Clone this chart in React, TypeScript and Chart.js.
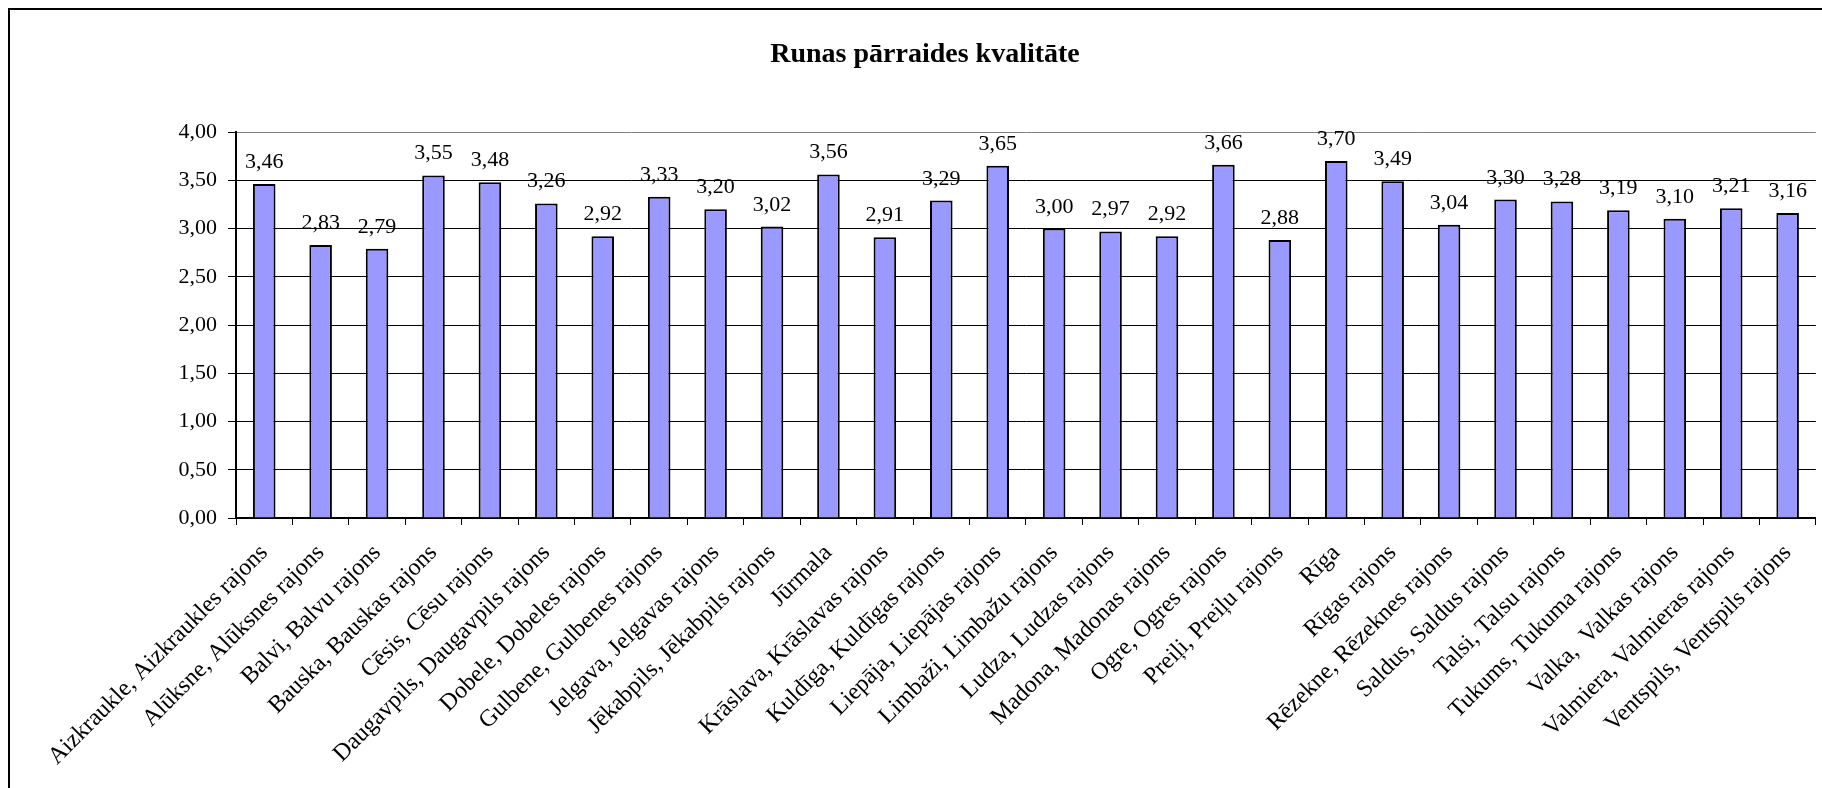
import React, { useEffect, useRef } from "react";
import { Chart, registerables } from "chart.js";

Chart.register(...registerables);

const chartTitle = "Runas pārraides kvalitāte";

const categories = [
  "Aizkraukle, Aizkraukles rajons",
  "Alūksne, Alūksnes rajons",
  "Balvi, Balvu rajons",
  "Bauska, Bauskas rajons",
  "Cēsis, Cēsu rajons",
  "Daugavpils, Daugavpils rajons",
  "Dobele, Dobeles rajons",
  "Gulbene, Gulbenes rajons",
  "Jelgava, Jelgavas rajons",
  "Jēkabpils, Jēkabpils rajons",
  "Jūrmala",
  "Krāslava, Krāslavas rajons",
  "Kuldīga, Kuldīgas rajons",
  "Liepāja, Liepājas rajons",
  "Limbaži, Limbažu rajons",
  "Ludza, Ludzas rajons",
  "Madona, Madonas rajons",
  "Ogre, Ogres rajons",
  "Preiļi, Preiļu rajons",
  "Rīga",
  "Rīgas rajons",
  "Rēzekne, Rēzeknes rajons",
  "Saldus, Saldus rajons",
  "Talsi, Talsu rajons",
  "Tukums, Tukuma rajons",
  "Valka,  Valkas rajons",
  "Valmiera, Valmieras rajons",
  "Ventspils, Ventspils rajons",
];

const values = [
  3.46, 2.83, 2.79, 3.55, 3.48, 3.26, 2.92, 3.33, 3.2, 3.02, 3.56, 2.91, 3.29,
  3.65, 3.0, 2.97, 2.92, 3.66, 2.88, 3.7, 3.49, 3.04, 3.3, 3.28, 3.19, 3.1,
  3.21, 3.16,
];

const yTickValues = [0, 0.5, 1, 1.5, 2, 2.5, 3, 3.5, 4];
const yTickLabels = ["0,00", "0,50", "1,00", "1,50", "2,00", "2,50", "3,00", "3,50", "4,00"];

const FONT = "'Liberation Serif', 'Times New Roman', Times, serif";

const valueLabelPlugin = {
  id: "valueLabels",
  afterDatasetsDraw(chart: any) {
    const ctx = chart.ctx;
    const meta = chart.getDatasetMeta(0);
    ctx.save();
    ctx.font = `22px ${FONT}`;
    ctx.fillStyle = "#000000";
    ctx.textAlign = "center";
    ctx.textBaseline = "alphabetic";
    meta.data.forEach((el: any, i: number) => {
      const txt = values[i].toFixed(2).replace(".", ",");
      ctx.fillText(txt, el.x, el.y - 16);
    });
    ctx.restore();
  },
};

export default function App() {
  const canvasRef = useRef<HTMLCanvasElement | null>(null);

  useEffect(() => {
    document.documentElement.style.overflow = "hidden";
    const canvas = canvasRef.current;
    if (!canvas) return;
    const chart = new Chart(canvas, {
      type: "bar",
      data: {
        labels: categories,
        datasets: [
          {
            data: values,
            backgroundColor: "#9999FF",
            borderColor: "#000000",
            borderWidth: 2,
            barPercentage: 0.4,
            categoryPercentage: 1,
          },
        ],
      },
      options: {
        animation: false,
        responsive: false,
        devicePixelRatio: 1,
        layout: { padding: { left: 18, top: 0, right: 0, bottom: 0 } },
        plugins: {
          legend: { display: false },
          tooltip: { enabled: false },
          title: {
            display: true,
            text: chartTitle,
            color: "#000000",
            font: { family: FONT, size: 28, weight: "bold", lineHeight: 1.2 },
            padding: { top: 28, bottom: 60.4 },
          },
        },
        scales: {
          x: {
            offset: true,
            afterFit: (scale: any) => {
              scale.height = 270;
            },
            border: { color: "#000000", width: 2 },
            grid: {
              offset: true,
              drawOnChartArea: false,
              drawTicks: true,
              tickLength: 7,
              color: "#000000",
              tickColor: "#000000",
              lineWidth: 1,
            },
            ticks: {
              autoSkip: false,
              minRotation: 45,
              maxRotation: 45,
              padding: 14,
              color: "#000000",
              font: { family: FONT, size: 24 },
            },
          },
          y: {
            min: 0,
            max: 4,
            afterFit: (scale: any) => {
              scale.width = 208;
            },
            afterBuildTicks: (scale: any) => {
              scale.ticks = yTickValues.map((v) => ({ value: v }));
            },
            border: { color: "#000000", width: 2 },
            grid: {
              drawTicks: true,
              tickLength: 8,
              color: (c: any) => (c.tick && c.tick.value === 4 ? "#808080" : "#000000"),
              tickColor: "#000000",
              lineWidth: 1,
            },
            ticks: {
              padding: 11,
              color: "#000000",
              font: { family: FONT, size: 22 },
              callback: (_v: any, i: number) => yTickLabels[i],
            },
          },
        },
      },
      plugins: [valueLabelPlugin],
    });
    return () => chart.destroy();
  }, []);

  return (
    <div
      style={{
        position: "fixed",
        left: 8,
        top: 8,
        width: 1814,
        height: 780,
        boxSizing: "border-box",
        borderLeft: "2px solid #000",
        borderTop: "2px solid #000",
        overflow: "hidden",
        background: "#ffffff",
      }}
    >
      <canvas
        ref={canvasRef}
        width={1812}
        height={778}
        style={{ display: "block", width: 1812, height: 778 }}
      />
    </div>
  );
}
